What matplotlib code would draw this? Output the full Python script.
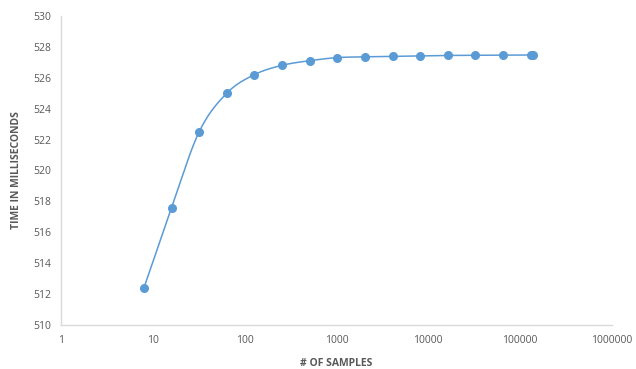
import numpy as np
import matplotlib.pyplot as plt

samples = [8, 16, 32, 64, 128, 256, 512, 1024, 2048, 4096, 8192, 16384, 32768, 65536, 131072, 140000]
time_ms = [512.4, 517.6, 522.5, 525.0, 526.2, 526.8, 527.1, 527.3, 527.35, 527.38, 527.42, 527.44, 527.45, 527.46, 527.47, 527.47]
xticks = [1, 10, 100, 1000, 10000, 100000, 1000000]
yticks = list(range(510, 531, 2))

blue = '#5B9BD5'
gray = '#595959'


def smooth(xs, ys, n=30):
    # catmull-rom through the points, done in log-x space
    lx = np.log10(xs)
    ys = np.asarray(ys, float)
    px = np.concatenate([[2 * lx[0] - lx[1]], lx, [2 * lx[-1] - lx[-2]]])
    py = np.concatenate([[2 * ys[0] - ys[1]], ys, [2 * ys[-1] - ys[-2]]])
    outx, outy = [], []
    t = np.linspace(0, 1, n)
    for i in range(1, len(px) - 2):
        for p, out in ((px, outx), (py, outy)):
            p0, p1, p2, p3 = p[i - 1], p[i], p[i + 1], p[i + 2]
            out.extend(0.5 * (2 * p1 + (-p0 + p2) * t + (2 * p0 - 5 * p1 + 4 * p2 - p3) * t ** 2
                              + (-p0 + 3 * p1 - 3 * p2 + p3) * t ** 3))
    return 10 ** np.array(outx), np.array(outy)


fig = plt.figure(figsize=(6.36, 3.69), dpi=100)
ax = fig.add_axes([0.0959, 0.119, 0.866, 0.838])

sx, sy = smooth(samples, time_ms)
ax.plot(sx, sy, color=blue, lw=1.1)
ax.plot(samples, time_ms, 'o', color=blue, ms=5.5, mec=blue)

ax.set_xscale('log')
ax.set_xlim(1, 1000000)
ax.set_ylim(510, 530)
ax.set_xticks(xticks)
ax.set_xticklabels([str(v) for v in xticks])
ax.minorticks_off()
ax.set_yticks(yticks)

for s in ['top', 'right']:
    ax.spines[s].set_visible(False)
for s in ['left', 'bottom']:
    ax.spines[s].set_color('#D9D9D9')
    ax.spines[s].set_linewidth(1)
ax.tick_params(length=0, labelsize=7.5, colors=gray, pad=7)
for lab in ax.get_xticklabels() + ax.get_yticklabels():
    lab.set_family('Open Sans')

ax.set_xlabel('# OF SAMPLES', fontsize=7.5, fontweight='bold', color=gray, family='Open Sans', labelpad=9)
ax.set_ylabel('TIME IN MILLISECONDS', fontsize=7.5, fontweight='bold', color=gray, family='Open Sans', labelpad=8)

fig.savefig('out.png', dpi=100)
